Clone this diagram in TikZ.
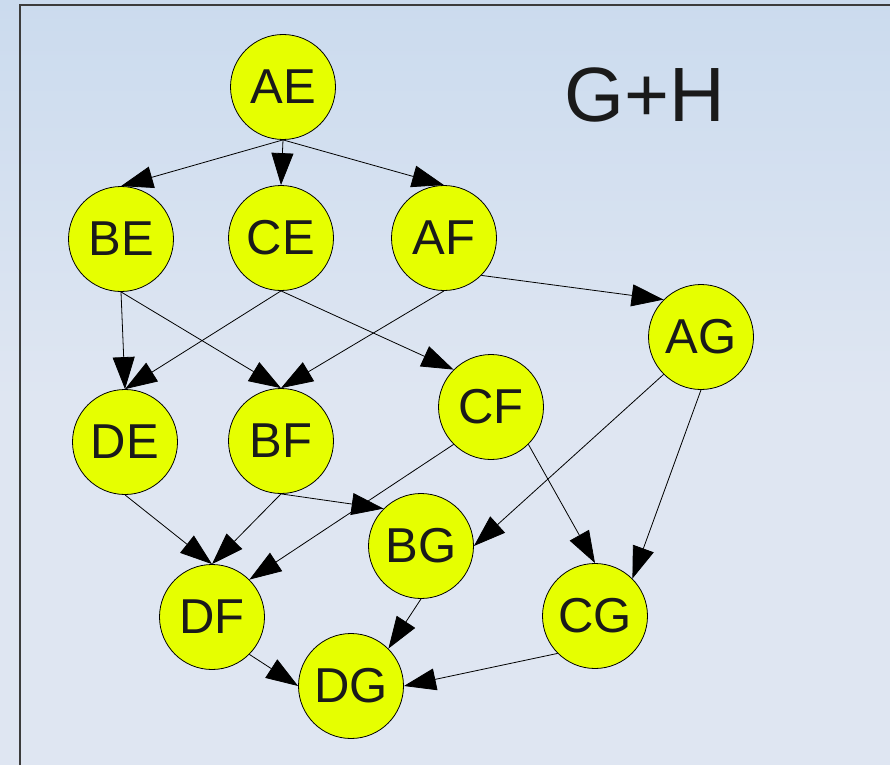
\documentclass[tikz,border=0pt]{standalone}
\usepackage{fontspec}
\setmainfont{Liberation Sans}
\usetikzlibrary{arrows.meta}
\definecolor{nodeyellow}{RGB}{230,255,0}
\definecolor{bgtop}{RGB}{203,219,238}
\definecolor{bgbottom}{RGB}{223,230,242}
\definecolor{framegray}{RGB}{60,60,60}
\definecolor{labelgray}{RGB}{26,26,26}
\begin{document}
\begin{tikzpicture}[x=1pt,y=-1pt,
  state/.style={circle,draw=black,line width=0.8pt,fill=nodeyellow,
    minimum size=105pt,inner sep=0pt,text=labelgray,
    font=\fontsize{49}{49}\selectfont},
  edge/.style={line width=0.8pt,-{Triangle[length=32pt,width=22pt]}}]
  \useasboundingbox (0,0) rectangle (890,765);
  \shade[top color=bgtop,bottom color=bgbottom] (0,0) rectangle (890,400);
  \fill[bgbottom] (0,399) rectangle (890,765);
  \draw[framegray,line width=1.2pt] (20,765) -- (20,5) -- (890,5);
  \node[text=labelgray,font=\fontsize{77}{77}\selectfont] (title) at (645,95) {G+H};
  % first row
  \node[state] (AE) at (283,87) {AE};
  % second row
  \node[state] (BE) at (121,239) {BE};
  \node[state] (CE) at (281,238) {CE};
  \node[state] (AF) at (444,238) {AF};
  \node[state] (AG) at (701,337) {AG};
  % third row
  \node[state] (DE) at (125,442) {DE};
  \node[state] (BF) at (281,441) {BF};
  \node[state] (CF) at (491,407) {CF};
  \node[state] (BG) at (421,546) {BG};
  % bottom
  \node[state] (DF) at (212,617) {DF};
  \node[state] (CG) at (595,616) {CG};
  \node[state] (DG) at (351,686) {DG};
  \draw[edge] (AE.south) -- (BE.north);
  \draw[edge] (AE.south) -- (CE.north);
  \draw[edge] (AE.south) -- (AF.north);
  \draw[edge] (BE.south) -- (DE.north);
  \draw[edge] (BE.south) -- (BF.north);
  \draw[edge] (CE.south) -- (DE.north);
  \draw[edge] (CE.south) -- (CF.north west);
  \draw[edge] (AF.south) -- (BF.north);
  \draw[edge] (AF.south east) -- (AG.north west);
  \draw[edge] (CF.south west) -- (DF.north east);
  \draw[edge] (CF.south east) -- (CG.north);
  \draw[edge] (AG.south west) -- (BG.east);
  \draw[edge] (AG.south) -- (CG.north east);
  \draw[edge] (DE.south) -- (DF.north);
  \draw[edge] (BF.south) -- (DF.north);
  \draw[edge] (BF.south) -- (BG.north west);
  \draw[edge] (BG.south) -- (DG.north east);
  \draw[edge] (DF.south east) -- (DG.west);
  \draw[edge] (CG.south west) -- (DG.east);
\end{tikzpicture}
\end{document}
